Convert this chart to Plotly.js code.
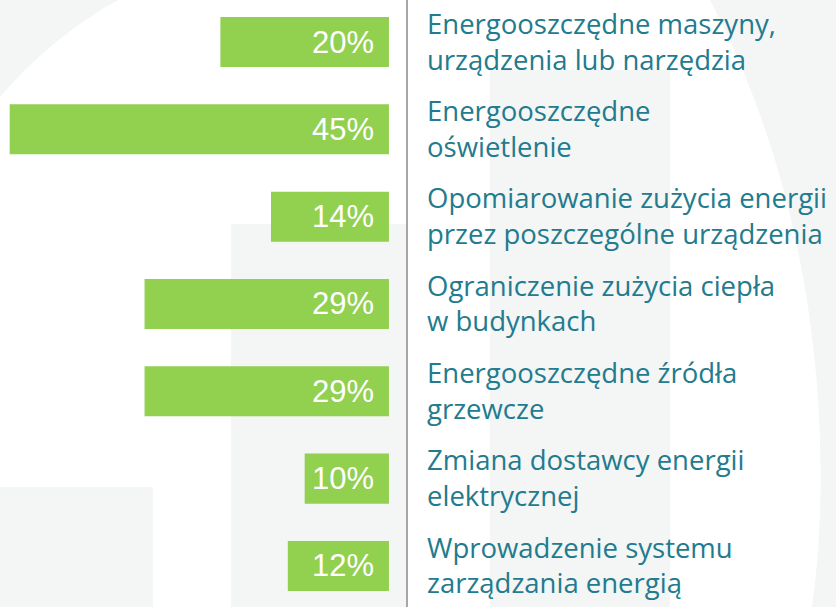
<!DOCTYPE html>
<html>
<head>
<meta charset="utf-8">
<script src="https://cdn.plot.ly/plotly-3.0.1.min.js"></script>
<style>
  html, body { margin: 0; padding: 0; background: #ffffff; }
  #chart { width: 836px; height: 607px; }
</style>
</head>
<body>
<div id="chart"></div>
<script>
// ---- data ----
var categories = [
  "Energooszczędne maszyny,<br>urządzenia lub narzędzia",
  "Energooszczędne<br>oświetlenie",
  "Opomiarowanie zużycia energii<br>przez poszczególne urządzenia",
  "Ograniczenie zużycia ciepła<br>w budynkach",
  "Energooszczędne źródła<br>grzewcze",
  "Zmiana dostawcy energii<br>elektrycznej",
  "Wprowadzenie systemu<br>zarządzania energią"
];
var values = [20, 45, 14, 29, 29, 10, 12];
var valueLabels = ["20%", "45%", "14%", "29%", "29%", "10%", "12%"];

// ---- helpers for decorative background (pixel -> paper) ----
var PW = 407, PH = 607;
function px(x) { return (x / PW).toFixed(4); }
function py(y) { return (1 - y / PH).toFixed(4); }
var bgGray = "#f4f5f5";

var shapes = [
  { type: "path", xref: "paper", yref: "paper", layer: "below", line: { width: 0 }, fillcolor: bgGray,
    path: "M " + px(0) + "," + py(0) + " L " + px(118) + "," + py(0) + " Q " + px(50) + "," + py(38) + " " + px(0) + "," + py(97) + " Z" },
  { type: "rect", xref: "paper", yref: "paper", layer: "below", line: { width: 0 }, fillcolor: bgGray,
    x0: px(0), x1: px(153), y0: py(607), y1: py(487) },
  { type: "rect", xref: "paper", yref: "paper", layer: "below", line: { width: 0 }, fillcolor: bgGray,
    x0: px(231), x1: px(407), y0: py(607), y1: py(224) },
  { type: "rect", xref: "paper", yref: "paper", layer: "below", line: { width: 0 }, fillcolor: bgGray,
    x0: px(490), x1: px(670), y0: py(607), y1: py(70) },
  { type: "path", xref: "paper", yref: "paper", layer: "below", line: { width: 0 }, fillcolor: bgGray,
    path: "M " + px(710) + "," + py(0) + " L " + px(836) + "," + py(0) + " L " + px(836) + "," + py(607) +
          " L " + px(812) + "," + py(607) + " C " + px(830) + "," + py(480) + " " + px(830) + "," + py(230) + " " + px(710) + "," + py(0) + " Z" },
  { type: "line", xref: "paper", yref: "paper", x0: 1, x1: 1, y0: 0, y1: 1,
    line: { color: "#a6a6a6", width: 2 } }
];

var annotations = categories.map(function (c, i) {
  return {
    x: 0, y: c, xref: "x", yref: "y",
    text: valueLabels[i], showarrow: false,
    xanchor: "right", yanchor: "middle", xshift: -13,
    font: { family: "Liberation Sans, Arial, sans-serif", size: 31, color: "#ffffff" }
  };
});

var trace = {
  type: "bar",
  orientation: "h",
  x: values,
  y: categories,
  width: 0.573,
  marker: { color: "#92d050", line: { width: 0 } },
  hoverinfo: "none"
};

var layout = {
  width: 836, height: 607,
  margin: { l: 0, r: 429, t: 0, b: 0, pad: 0 },
  paper_bgcolor: "#ffffff",
  plot_bgcolor: "rgba(0,0,0,0)",
  showlegend: false,
  xaxis: {
    range: [46.15, -2.14],
    showgrid: false, zeroline: false, showticklabels: false, showline: false, ticks: "",
    fixedrange: true
  },
  yaxis: {
    type: "category",
    categoryorder: "array", categoryarray: categories,
    range: [6.47, -0.481],
    side: "right",
    showgrid: false, zeroline: false, showline: false, ticks: "",
    ticklabelstandoff: 19,
    tickfont: { family: "'Open Sans', sans-serif", size: 27.5, color: "#227b8e" },
    automargin: false,
    fixedrange: true
  },
  shapes: shapes,
  annotations: annotations
};

Plotly.newPlot("chart", [trace], layout, { displayModeBar: false, staticPlot: true });
</script>
</body>
</html>
